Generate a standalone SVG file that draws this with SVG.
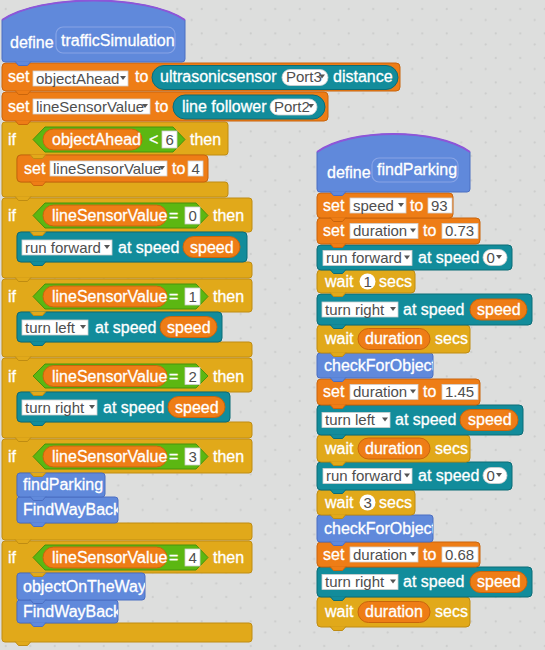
<svg xmlns="http://www.w3.org/2000/svg" xmlns:xlink="http://www.w3.org/1999/xlink" width="545" height="650" viewBox="0 0 545 650">
<style>
.t{font-family:"Liberation Sans",Arial,sans-serif;font-size:16px;fill:#fff;stroke:#fff;stroke-width:0.3}
.k{fill:#4e4e4e;stroke:none;font-size:15px}
.var{fill:#ee7d16;stroke:#c9650c;stroke-width:1}
.rob{fill:#128c9b;stroke:#0b6c77;stroke-width:1}
.ctl{fill:#e1a91a;stroke:#bf8c12;stroke-width:1}
.cus{fill:#6089db;stroke:#4b6ec2;stroke-width:1}
.op{fill:#5cb712;stroke:#47920c;stroke-width:1}
.box{fill:#fff;stroke:#cfcfcf;stroke-width:0.8}
.arr{fill:#555}
.in{fill:none;stroke:#87a4e6;stroke-width:1.2}
.hl{fill:none;stroke:#8e55d8;stroke-width:2}
</style>
<defs>
<pattern id="dots" width="24.5" height="24.5" patternUnits="userSpaceOnUse">
<circle cx="5.7" cy="9" r="1.1" fill="#cbcccb"/>
<circle cx="20.2" cy="20" r="1.1" fill="#cbcccb"/>
</pattern>
<path id="bump" d="M0,-0.6 L3.5,3.5 H12.5 L16,-0.6"/>
<clipPath id="cf1"><rect x="317" y="353" width="116" height="25"/></clipPath>
<clipPath id="cf2"><rect x="317" y="515" width="116" height="27"/></clipPath>
<clipPath id="cw1"><rect x="17" y="497" width="101" height="26"/></clipPath>
<clipPath id="cw2"><rect x="17" y="600" width="101" height="23"/></clipPath>
<clipPath id="co"><rect x="17" y="573" width="128" height="27"/></clipPath>
</defs>
<rect width="545" height="650" fill="#dddedd"/>
<rect width="545" height="650" fill="url(#dots)"/>
<g id="connectors"></g>

<!-- LEFT STACK (drawn bottom to top) -->
<g id="if-lsv-4">
<path class="ctl" d="M2,544 Q2,541 5,541 H249 Q252,541 252,544 V570 Q252,573 249,573 H20 Q17,573 17,576 V620 Q17,623 20,623 H249 Q252,623 252,626 V639 Q252,642 249,642 H5 Q2,642 2,639 Z"/>
<use href="#bump" class="ctl" x="15" y="642"/>
<text class="t" x="8" y="563">if</text>
<polygon class="op" points="33,557.5 45,545 196,545 208,557.5 196,570 45,570"/>
<rect class="var" x="43" y="547" width="124" height="21" rx="10.5"/>
<text class="t" x="52" y="563">lineSensorValue</text>
<text class="t" x="169" y="563">=</text>
<rect class="box" x="185" y="549" width="15" height="17"/>
<text class="t k" x="188.5" y="562.5">4</text>
<text class="t" x="213" y="563">then</text>
<g id="fwb2"><rect class="cus" x="17" y="600" width="101" height="23" rx="3"/><use href="#bump" class="cus" x="30" y="623"/><text class="t" x="23" y="617" clip-path="url(#cw2)">FindWayBack</text></g>
<g id="objectOnTheWay"><rect class="cus" x="17" y="573" width="128" height="27" rx="3"/><use href="#bump" class="cus" x="30" y="600"/><text class="t" x="23" y="592" clip-path="url(#co)">objectOnTheWay</text></g>
<use href="#bump" class="ctl" x="30" y="573"/>
</g>

<g id="if-lsv-3">
<path class="ctl" d="M2,442 Q2,439 5,439 H249 Q252,439 252,442 V470 Q252,473 249,473 H20 Q17,473 17,476 V520 Q17,523 20,523 H249 Q252,523 252,526 V537 Q252,540 249,540 H5 Q2,540 2,537 Z"/>
<use href="#bump" class="ctl" x="15" y="540"/>
<text class="t" x="8" y="462">if</text>
<polygon class="op" points="33,456.5 45,444 196,444 208,456.5 196,469 45,469"/>
<rect class="var" x="43" y="446" width="124" height="21" rx="10.5"/>
<text class="t" x="52" y="462">lineSensorValue</text>
<text class="t" x="169" y="462">=</text>
<rect class="box" x="185" y="448" width="15" height="17"/>
<text class="t k" x="188.5" y="461.5">3</text>
<text class="t" x="213" y="462">then</text>
<g id="fwb1"><rect class="cus" x="17" y="497" width="101" height="26" rx="3"/><use href="#bump" class="cus" x="30" y="523"/><text class="t" x="23" y="515" clip-path="url(#cw1)">FindWayBack</text></g>
<g id="findParkingCall"><rect class="cus" x="17" y="473" width="88" height="24" rx="3"/><use href="#bump" class="cus" x="30" y="497"/><text class="t" x="23" y="490">findParking</text></g>
<use href="#bump" class="ctl" x="30" y="473"/>
</g>

<g id="if-lsv-2">
<path class="ctl" d="M2,361 Q2,358 5,358 H249 Q252,358 252,361 V389 Q252,392 249,392 H20 Q17,392 17,395 V419 Q17,422 20,422 H249 Q252,422 252,425 V435 Q252,438 249,438 H5 Q2,438 2,435 Z"/>
<use href="#bump" class="ctl" x="15" y="438"/>
<text class="t" x="8" y="382">if</text>
<polygon class="op" points="33,376 45,364 196,364 208,376 196,388 45,388"/>
<rect class="var" x="43" y="365.5" width="124" height="21" rx="10.5"/>
<text class="t" x="52" y="382">lineSensorValue</text>
<text class="t" x="169" y="382">=</text>
<rect class="box" x="185" y="367.5" width="15" height="17"/>
<text class="t k" x="188.5" y="381.5">2</text>
<text class="t" x="213" y="382">then</text>
<g id="turnRight0"><rect class="rob" x="17" y="392" width="213" height="30" rx="4"/><use href="#bump" class="rob" x="30" y="422"/>
<rect class="box" x="22" y="400" width="75" height="15"/><text class="t k" x="25" y="412.5">turn right</text><polygon class="arr" points="89,405 95,405 92,409"/>
<text class="t" x="103" y="413">at speed</text>
<rect class="var" x="168" y="396.5" width="57" height="21" rx="10.5"/><text class="t" x="175" y="413">speed</text></g>
<use href="#bump" class="ctl" x="30" y="392"/>
</g>

<g id="if-lsv-1">
<path class="ctl" d="M2,282 Q2,279 5,279 H249 Q252,279 252,282 V309 Q252,312 249,312 H20 Q17,312 17,315 V339 Q17,342 20,342 H249 Q252,342 252,345 V354 Q252,357 249,357 H5 Q2,357 2,354 Z"/>
<use href="#bump" class="ctl" x="15" y="357"/>
<text class="t" x="8" y="302">if</text>
<polygon class="op" points="33,296.5 45,284 196,284 208,296.5 196,309 45,309"/>
<rect class="var" x="43" y="286" width="124" height="21" rx="10.5"/>
<text class="t" x="52" y="302">lineSensorValue</text>
<text class="t" x="169" y="302">=</text>
<rect class="box" x="185" y="288" width="15" height="17"/>
<text class="t k" x="188.5" y="301.5">1</text>
<text class="t" x="213" y="302">then</text>
<g id="turnLeft0"><rect class="rob" x="17" y="312" width="205" height="30" rx="4"/><use href="#bump" class="rob" x="30" y="342"/>
<rect class="box" x="22" y="320" width="66" height="15"/><text class="t k" x="25" y="332.5">turn left</text><polygon class="arr" points="80,325 86,325 83,329"/>
<text class="t" x="95" y="333">at speed</text>
<rect class="var" x="160" y="316.5" width="57" height="21" rx="10.5"/><text class="t" x="167" y="333">speed</text></g>
<use href="#bump" class="ctl" x="30" y="312"/>
</g>

<g id="if-lsv-0">
<path class="ctl" d="M2,201 Q2,198 5,198 H249 Q252,198 252,201 V229 Q252,232 249,232 H20 Q17,232 17,235 V259 Q17,262 20,262 H249 Q252,262 252,265 V275 Q252,278 249,278 H5 Q2,278 2,275 Z"/>
<use href="#bump" class="ctl" x="15" y="278"/>
<text class="t" x="8" y="221">if</text>
<polygon class="op" points="33,215.5 45,203 196,203 208,215.5 196,228 45,228"/>
<rect class="var" x="43" y="205" width="124" height="21" rx="10.5"/>
<text class="t" x="52" y="221">lineSensorValue</text>
<text class="t" x="169" y="221">=</text>
<rect class="box" x="185" y="207" width="15" height="17"/>
<text class="t k" x="188.5" y="220.5">0</text>
<text class="t" x="213" y="221">then</text>
<g id="runForward0"><rect class="rob" x="17" y="232" width="230" height="30" rx="4"/><use href="#bump" class="rob" x="30" y="262"/>
<rect class="box" x="22" y="240" width="90" height="15"/><text class="t k" x="25" y="252.5">run forward</text><polygon class="arr" points="104,245 110,245 107,249"/>
<text class="t" x="118" y="253">at speed</text>
<rect class="var" x="183" y="236.5" width="57" height="21" rx="10.5"/><text class="t" x="190" y="253">speed</text></g>
<use href="#bump" class="ctl" x="30" y="232"/>
</g>

<g id="if-objectAhead">
<path class="ctl" d="M2,125 Q2,122 5,122 H225 Q228,122 228,125 V152 Q228,155 225,155 H20 Q17,155 17,158 V179 Q17,182 20,182 H225 Q228,182 228,185 V194 Q228,197 225,197 H5 Q2,197 2,194 Z"/>
<use href="#bump" class="ctl" x="15" y="197"/>
<text class="t" x="8" y="145">if</text>
<polygon class="op" points="33,139.5 45,127 173,127 185,139.5 173,152 45,152"/>
<rect class="var" x="43" y="129" width="99" height="21" rx="10.5"/>
<text class="t" x="52" y="145">objectAhead</text>
<text class="t" x="149" y="145">&lt;</text>
<rect class="box" x="162" y="131" width="15" height="17"/>
<text class="t k" x="165.5" y="144.5">6</text>
<text class="t" x="190" y="145">then</text>
<g id="setLsv4"><rect class="var" x="17" y="155" width="191" height="27" rx="4"/><use href="#bump" class="var" x="30" y="182"/>
<text class="t" x="24" y="174">set</text>
<rect class="box" x="50" y="161" width="117" height="15"/><text class="t k" x="53" y="173.5">lineSensorValue</text><polygon class="arr" points="159,166 165,166 162,170"/>
<text class="t" x="172" y="174">to</text>
<rect class="box" x="188" y="161" width="15" height="15"/><text class="t k" x="191.5" y="173.5">4</text></g>
<use href="#bump" class="ctl" x="30" y="155"/>
</g>

<g id="setLineSensorValue">
<rect class="var" x="2" y="92" width="326" height="29" rx="4"/><use href="#bump" class="var" x="15" y="121"/>
<text class="t" x="8" y="112">set</text>
<rect class="box" x="33" y="99" width="117" height="15"/><text class="t k" x="36" y="111.5">lineSensorValue</text><polygon class="arr" points="142,104 148,104 145,108"/>
<text class="t" x="155" y="112">to</text>
<rect class="rob" x="173" y="95" width="152" height="24" rx="12"/>
<text class="t" x="182" y="112">line follower</text>
<rect class="box" x="270" y="99" width="47" height="16" rx="8"/><text class="t k" x="274" y="111.5">Port2</text><polygon class="arr" points="308,104 314,104 311,108"/>
</g>

<g id="setObjectAhead">
<rect class="var" x="2" y="63" width="398" height="28" rx="4"/><use href="#bump" class="var" x="15" y="91"/>
<text class="t" x="8" y="82">set</text>
<rect class="box" x="33" y="71" width="95" height="15"/><text class="t k" x="36" y="83.5">objectAhead</text><polygon class="arr" points="120,76 126,76 123,80"/>
<text class="t" x="135" y="82">to</text>
<rect class="rob" x="152" y="65.5" width="246" height="24" rx="12"/>
<text class="t" x="160" y="82">ultrasonicsensor</text>
<rect class="box" x="282" y="69.5" width="46" height="16" rx="8"/><text class="t k" x="286" y="82">Port3</text><polygon class="arr" points="319,74.5 325,74.5 322,78.5"/>
<text class="t" x="333" y="82">distance</text>
</g>

<g id="defineTrafficSimulation">
<path class="cus" d="M2,20 C40,-6 147,-6 185,20 V59 Q185,62 182,62 H5 Q2,62 2,59 Z"/>
<path class="hl" d="M2,20 C40,-6 147,-6 185,20"/>
<use href="#bump" class="cus" x="15" y="62"/>
<text class="t" x="10" y="48">define</text>
<rect class="in" x="56" y="27" width="119" height="26" rx="7"/>
<text class="t" x="61" y="46">trafficSimulation</text>
</g>

<!-- RIGHT STACK (drawn bottom to top) -->
<g id="waitDuration3">
<rect class="ctl" x="317" y="597" width="153" height="30" rx="4"/><use href="#bump" class="ctl" x="330" y="627"/>
<text class="t" x="325" y="617">wait</text>
<rect class="var" x="358" y="601.5" width="72" height="21" rx="10.5"/><text class="t" x="365" y="617">duration</text>
<text class="t" x="435" y="617">secs</text>
</g>
<g id="turnRight2">
<rect class="rob" x="317" y="567" width="215" height="30" rx="4"/><use href="#bump" class="rob" x="330" y="597"/>
<rect class="box" x="322" y="574.5" width="76" height="15"/><text class="t k" x="325" y="587">turn right</text><polygon class="arr" points="390,579.5 396,579.5 393,583.5"/>
<text class="t" x="403" y="587">at speed</text>
<rect class="var" x="470" y="571.5" width="57" height="21" rx="10.5"/><text class="t" x="477" y="587">speed</text>
</g>
<g id="setDuration068">
<rect class="var" x="317" y="542" width="163" height="25" rx="4"/><use href="#bump" class="var" x="330" y="567"/>
<text class="t" x="323" y="560">set</text>
<rect class="box" x="350" y="547" width="68" height="15"/><text class="t k" x="353" y="559.5">duration</text><polygon class="arr" points="410,552 416,552 413,556"/>
<text class="t" x="423" y="560">to</text>
<rect class="box" x="442" y="547" width="36" height="15"/><text class="t k" x="445" y="559.5">0.68</text>
</g>
<g id="checkForObject2">
<rect class="cus" x="317" y="515" width="116" height="27" rx="3"/><use href="#bump" class="cus" x="330" y="542"/>
<text class="t" x="324" y="534" clip-path="url(#cf2)">checkForObject</text>
</g>
<g id="wait3">
<rect class="ctl" x="317" y="490" width="98" height="25" rx="4"/><use href="#bump" class="ctl" x="330" y="515"/>
<text class="t" x="325" y="508">wait</text>
<circle cx="367.5" cy="502.5" r="8" fill="#fff"/><text class="t k" x="363.5" y="508">3</text>
<text class="t" x="379" y="508">secs</text>
</g>
<g id="runForward2">
<rect class="rob" x="317" y="462" width="195" height="28" rx="4"/><use href="#bump" class="rob" x="330" y="490"/>
<rect class="box" x="323" y="468.5" width="89" height="15"/><text class="t k" x="326" y="481">run forward</text><polygon class="arr" points="404,473.5 410,473.5 407,477.5"/>
<text class="t" x="418" y="481">at speed</text>
<rect class="box" x="483" y="467.5" width="24" height="16" rx="8"/><text class="t k" x="486.5" y="480.5">0</text><polygon class="arr" points="496,473 502,473 499,477"/>
</g>
<g id="waitDuration2">
<rect class="ctl" x="317" y="435" width="153" height="27" rx="4"/><use href="#bump" class="ctl" x="330" y="462"/>
<text class="t" x="325" y="454">wait</text>
<rect class="var" x="358" y="438" width="72" height="21" rx="10.5"/><text class="t" x="365" y="454">duration</text>
<text class="t" x="435" y="454">secs</text>
</g>
<g id="turnLeft1">
<rect class="rob" x="317" y="405" width="206" height="30" rx="4"/><use href="#bump" class="rob" x="330" y="435"/>
<rect class="box" x="322" y="412.5" width="68" height="15"/><text class="t k" x="325" y="425">turn left</text><polygon class="arr" points="382,417.5 388,417.5 385,421.5"/>
<text class="t" x="395" y="425">at speed</text>
<rect class="var" x="460" y="409.5" width="58" height="21" rx="10.5"/><text class="t" x="468" y="425">speed</text>
</g>
<g id="setDuration145">
<rect class="var" x="317" y="379" width="163" height="26" rx="4"/><use href="#bump" class="var" x="330" y="405"/>
<text class="t" x="323" y="397">set</text>
<rect class="box" x="350" y="384.5" width="68" height="15"/><text class="t k" x="353" y="397">duration</text><polygon class="arr" points="410,389.5 416,389.5 413,393.5"/>
<text class="t" x="423" y="397">to</text>
<rect class="box" x="442" y="384.5" width="36" height="15"/><text class="t k" x="445" y="397">1.45</text>
</g>
<g id="checkForObject1">
<rect class="cus" x="317" y="353" width="116" height="25" rx="3"/><use href="#bump" class="cus" x="330" y="378"/>
<text class="t" x="324" y="371" clip-path="url(#cf1)">checkForObject</text>
</g>
<g id="waitDuration1">
<rect class="ctl" x="317" y="325" width="153" height="28" rx="4"/><use href="#bump" class="ctl" x="330" y="353"/>
<text class="t" x="325" y="344">wait</text>
<rect class="var" x="358" y="328.5" width="72" height="21" rx="10.5"/><text class="t" x="365" y="344">duration</text>
<text class="t" x="435" y="344">secs</text>
</g>
<g id="turnRight1">
<rect class="rob" x="317" y="294" width="215" height="31" rx="4"/><use href="#bump" class="rob" x="330" y="325"/>
<rect class="box" x="322" y="302" width="76" height="15"/><text class="t k" x="325" y="314.5">turn right</text><polygon class="arr" points="390,307 396,307 393,311"/>
<text class="t" x="403" y="315">at speed</text>
<rect class="var" x="470" y="299" width="57" height="21" rx="10.5"/><text class="t" x="477" y="315">speed</text>
</g>
<g id="wait1">
<rect class="ctl" x="317" y="270" width="98" height="23" rx="4"/><use href="#bump" class="ctl" x="330" y="293"/>
<text class="t" x="325" y="287">wait</text>
<circle cx="367.5" cy="281.5" r="8" fill="#fff"/><text class="t k" x="363.5" y="287">1</text>
<text class="t" x="379" y="287">secs</text>
</g>
<g id="runForward1">
<rect class="rob" x="317" y="245" width="195" height="25" rx="4"/><use href="#bump" class="rob" x="330" y="270"/>
<rect class="box" x="323" y="250.5" width="89" height="15"/><text class="t k" x="326" y="263">run forward</text><polygon class="arr" points="404,255.5 410,255.5 407,259.5"/>
<text class="t" x="418" y="263">at speed</text>
<rect class="box" x="483" y="249.5" width="24" height="16" rx="8"/><text class="t k" x="486.5" y="262.5">0</text><polygon class="arr" points="496,255 502,255 499,259"/>
</g>
<g id="setDuration073">
<rect class="var" x="317" y="218" width="163" height="26" rx="4"/><use href="#bump" class="var" x="330" y="244"/>
<text class="t" x="323" y="236">set</text>
<rect class="box" x="350" y="223.5" width="68" height="15"/><text class="t k" x="353" y="236">duration</text><polygon class="arr" points="410,228.5 416,228.5 413,232.5"/>
<text class="t" x="423" y="236">to</text>
<rect class="box" x="442" y="223.5" width="36" height="15"/><text class="t k" x="445" y="236">0.73</text>
</g>
<g id="setSpeed93">
<rect class="var" x="317" y="193" width="136" height="25" rx="4"/><use href="#bump" class="var" x="330" y="218"/>
<text class="t" x="323" y="211">set</text>
<rect class="box" x="350" y="198" width="56" height="15"/><text class="t k" x="353" y="210.5">speed</text><polygon class="arr" points="398,203 404,203 401,207"/>
<text class="t" x="410" y="211">to</text>
<rect class="box" x="428" y="198" width="24" height="15"/><text class="t k" x="431" y="210.5">93</text>
</g>
<g id="defineFindParking">
<path class="cus" d="M317,152 C350,128 437,128 470,152 V189 Q470,192 467,192 H320 Q317,192 317,189 Z"/>
<path class="hl" d="M317,152 C350,128 437,128 470,152"/>
<use href="#bump" class="cus" x="330" y="192"/>
<text class="t" x="327" y="178">define</text>
<rect class="in" x="372" y="158" width="86" height="24" rx="7"/>
<text class="t" x="377" y="175">findParking</text>
</g>
</svg>
